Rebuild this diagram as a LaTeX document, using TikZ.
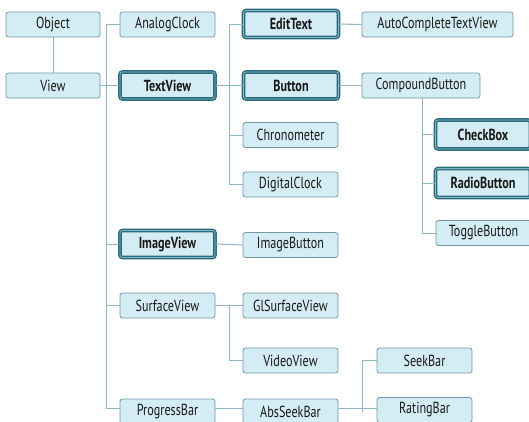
\documentclass[tikz,border=0pt]{standalone}
\usepackage{fontspec}
\setmainfont[FakeStretch=0.76]{PT Sans}
\begin{document}
\begin{tikzpicture}[x=1pt,y=-1pt,
  box/.style={draw=boxedge, line width=0.8pt, fill=boxfill, rounded corners=2.5pt,
    minimum width=95pt, minimum height=25pt, inner sep=0pt, text=black!90,
    font=\fontsize{16}{18}\selectfont},
  bbox/.style={box, draw=boldedge, line width=1.4pt, double=boldinner, double distance=0.8pt,
    minimum height=27pt, font=\fontsize{16}{18}\selectfont\bfseries},
  conn/.style={draw=linecol, line width=1pt}]
\definecolor{boxfill}{HTML}{D4ECF3}
\definecolor{boxedge}{HTML}{6E9BA8}
\definecolor{boldedge}{HTML}{2A6C7E}
\definecolor{boldinner}{HTML}{7FB6C5}
\definecolor{linecol}{HTML}{8DB7C3}
\useasboundingbox (0,0) rectangle (529,421);
\fill[white] (0,0) rectangle (529,421);
% column 1
\node[box, minimum width=94pt] (Object) at (53,24.5) {Object};
\node[box, minimum width=94pt] (View) at (53,85.5) {View};
% column 2
\node[box] (AnalogClock) at (167.5,24.5) {AnalogClock};
\node[bbox] (TextView) at (167.5,85.5) {TextView};
\node[bbox] (ImageView) at (167.5,244) {ImageView};
\node[box] (SurfaceView) at (167.5,305.5) {SurfaceView};
\node[box] (ProgressBar) at (167.5,411.5) {ProgressBar};
% column 3
\node[bbox] (EditText) at (291,24) {EditText};
\node[bbox] (Button) at (291,85.5) {Button};
\node[box] (Chronometer) at (290.5,135) {Chronometer};
\node[box] (DigitalClock) at (290.5,184.5) {DigitalClock};
\node[box] (ImageButton) at (290.5,245) {ImageButton};
\node[box] (GlSurfaceView) at (290.5,305.5) {GlSurfaceView};
\node[box] (VideoView) at (290.5,360.5) {VideoView};
\node[box] (AbsSeekBar) at (290.5,411.5) {AbsSeekBar};
% column 4
\node[box, minimum width=151pt] (AutoCompleteTextView) at (437.5,24.5) {AutoCompleteTextView};
\node[box, minimum width=118pt] (CompoundButton) at (421,85.5) {CompoundButton};
\node[box] (SeekBar) at (424.5,360.5) {SeekBar};
\node[box] (RatingBar) at (424.5,410) {RatingBar};
% column 5
\node[bbox, minimum height=29pt] (CheckBox) at (483,134.5) {CheckBox};
\node[bbox, minimum height=29pt] (RadioButton) at (483,183) {RadioButton};
\node[box] (ToggleButton) at (483.5,233) {ToggleButton};
% connectors
\draw[conn] (Object) -- (View);
\draw[conn] (View.east) -- (TextView.west);
\draw[conn] (View.east) ++(6,0) coordinate (vt) |- (AnalogClock.west);
\draw[conn] (vt) |- (ImageView.west);
\draw[conn] (vt) |- (SurfaceView.west);
\draw[conn] (vt) |- (ProgressBar.west |- 0,408);
\draw[conn] (TextView.east) -- (Button.west);
\draw[conn] (TextView.east) ++(14,0) coordinate (tt) |- (EditText.west);
\draw[conn] (tt) |- (Chronometer.west);
\draw[conn] (tt) |- (DigitalClock.west);
\draw[conn] (EditText.east) -- (AutoCompleteTextView.west);
\draw[conn] (Button.east) -- (CompoundButton.west);
\draw[conn] (CompoundButton.south) ++(1,0) coordinate (ct) |- (CheckBox.west);
\draw[conn] (ct) |- (RadioButton.west);
\draw[conn] (ct) |- (ToggleButton.west);
\draw[conn] (ImageView.east) -- (ImageButton.west);
\draw[conn] (SurfaceView.east) -- (GlSurfaceView.west);
\draw[conn] (SurfaceView.east) ++(14,0) coordinate (st) |- (VideoView.west);
\draw[conn] (ProgressBar.east |- 0,408) -- (AbsSeekBar.west |- 0,408);
\draw[conn] (AbsSeekBar.east |- 0,408) -- (RatingBar.west |- 0,408);
\draw[conn] (AbsSeekBar.east) ++(24,0) coordinate (at) |- (SeekBar.west);
\draw[conn] (at |- 0,408) -- (at |- SeekBar.west);
\end{tikzpicture}
\end{document}
